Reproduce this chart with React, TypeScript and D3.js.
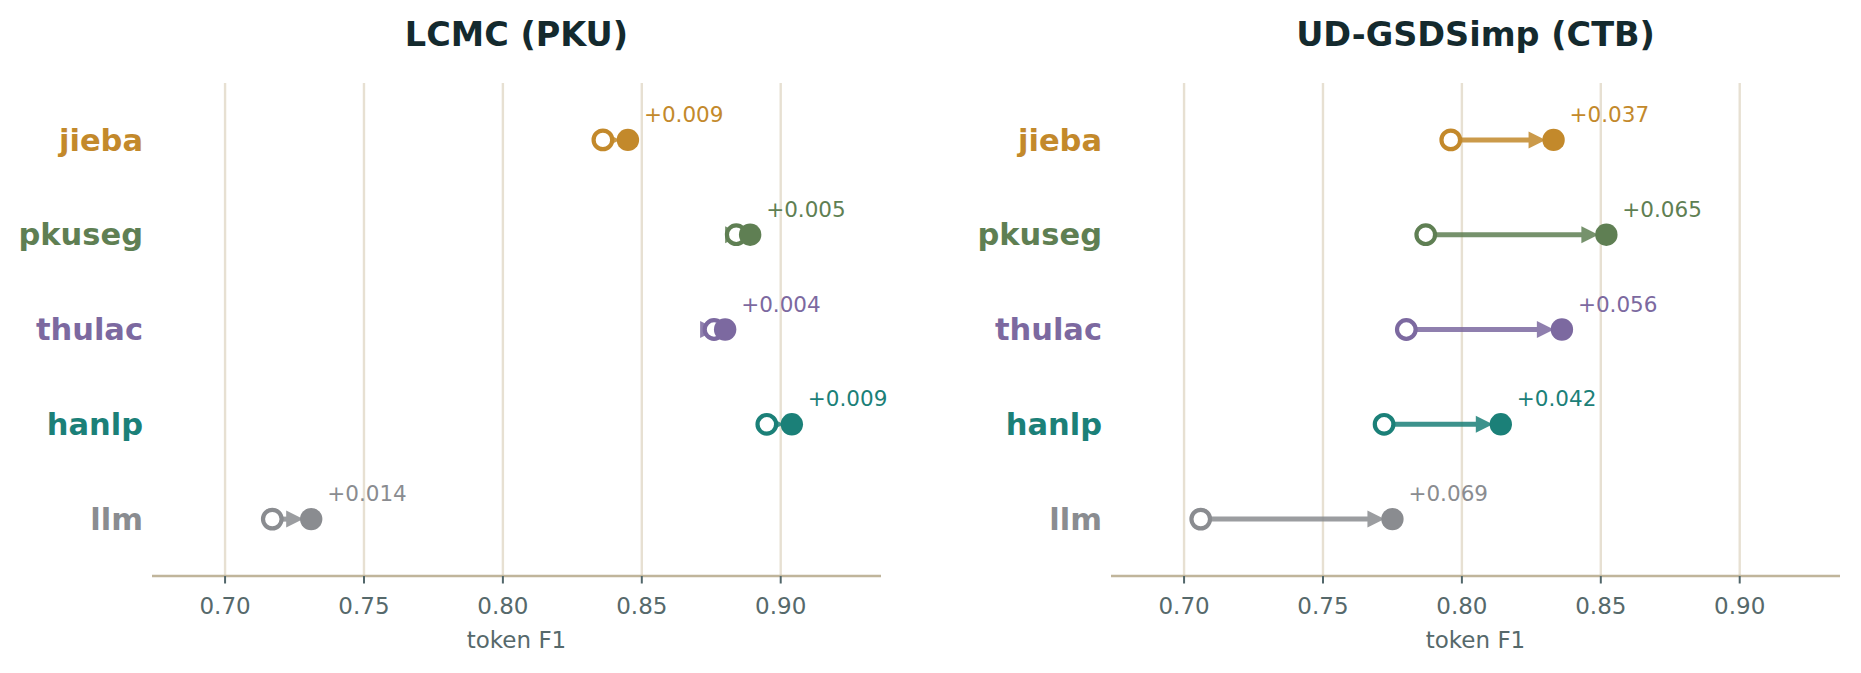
import React from "react";
import * as d3 from "d3";

const tools = ["jieba", "pkuseg", "thulac", "hanlp", "llm"];
const colors = ["#c3892b", "#5f7f53", "#7c69a0", "#1b8078", "#8a8c90"];
const panelTitles = ["LCMC (PKU)", "UD-GSDSimp (CTB)"];
const beforeLCMC = [0.836, 0.884, 0.876, 0.895, 0.717];
const afterLCMC = [0.845, 0.889, 0.880, 0.904, 0.731];
const beforeUD = [0.796, 0.787, 0.780, 0.772, 0.706];
const afterUD = [0.833, 0.852, 0.836, 0.814, 0.775];
const xTicks = [0.7, 0.75, 0.8, 0.85, 0.9];
const xDomain = [0.6737, 0.9361];
const xLabel = "token F1";

const W = 1861;
const H = 673;
const TOP = 83;
const BOTTOM = 576;
const FONT = "DejaVu Sans, sans-serif";

function Panel({ x0, x1, title, before, after }: { x0: number; x1: number; title: string; before: number[]; after: number[] }) {
  const x = d3.scaleLinear().domain(xDomain).range([x0, x1]);
  const y = d3.scaleLinear().domain([-0.6, 4.6]).range([TOP, BOTTOM]);
  const cx = (x0 + x1) / 2;
  const headLen = 17;
  const headHalf = 8.5;
  const shrinkA = 8;
  const shrinkB = 8;
  return (
    <g>
      {xTicks.map((t) => (
        <line key={"g" + t} x1={x(t)} x2={x(t)} y1={TOP} y2={BOTTOM} stroke="#e7e0d2" strokeWidth={2.4} />
      ))}
      <line x1={x0} x2={x1} y1={BOTTOM} y2={BOTTOM} stroke="#c0b59b" strokeWidth={2.5} />
      {xTicks.map((t) => (
        <g key={"t" + t}>
          <line x1={x(t)} x2={x(t)} y1={BOTTOM} y2={BOTTOM + 7.5} stroke="#51666a" strokeWidth={2} />
          <text x={x(t)} y={614} textAnchor="middle" fontFamily={FONT} fontSize={23} fill="#56696b">
            {d3.format(".2f")(t)}
          </text>
        </g>
      ))}
      <text x={cx} y={648} textAnchor="middle" fontFamily={FONT} fontSize={23} fill="#56696b">
        {xLabel}
      </text>
      <text x={cx} y={45.5} textAnchor="middle" fontFamily={FONT} fontSize={33.5} fontWeight="bold" fill="#142a2e">
        {title}
      </text>
      {tools.map((name, i) => (
        <text key={"l" + name} x={x0 - 9} y={y(i) + 10.8} textAnchor="end" fontFamily={FONT} fontSize={30.5} fontWeight="bold" fill={colors[i]}>
          {name}
        </text>
      ))}
      {tools.map((name, i) => {
        const xa = x(before[i]);
        const xb = x(after[i]);
        const yy = y(i);
        const tip = xb - shrinkB;
        const start = xa + shrinkA;
        const base = tip - headLen;
        return (
          <g key={"a" + name} opacity={0.85}>
            <line x1={start} x2={base + 2} y1={yy} y2={yy} stroke={colors[i]} strokeWidth={5} />
            <path d={`M${tip},${yy} L${base},${yy - headHalf} L${base},${yy + headHalf} Z`} fill={colors[i]} />
          </g>
        );
      })}
      {tools.map((name, i) => (
        <circle key={"o" + name} cx={x(before[i])} cy={y(i)} r={9.3} fill="#ffffff" stroke={colors[i]} strokeWidth={4.2} />
      ))}
      {tools.map((name, i) => (
        <circle key={"f" + name} cx={x(after[i])} cy={y(i)} r={11.2} fill={colors[i]} />
      ))}
      {tools.map((name, i) => (
        <text key={"d" + name} x={x(after[i]) + 16} y={y(i) - 18} fontFamily={FONT} fontSize={21.5} fill={colors[i]}>
          {"+" + d3.format(".3f")(after[i] - before[i])}
        </text>
      ))}
    </g>
  );
}

export default function App() {
  return (
    <svg width={W} height={H} style={{ position: "absolute", left: 0, top: 0, background: "#ffffff" }}>
      <rect x={0} y={0} width={W} height={H} fill="#ffffff" />
      <Panel x0={152} x1={881} title={panelTitles[0]} before={beforeLCMC} after={afterLCMC} />
      <Panel x0={1111} x1={1840} title={panelTitles[1]} before={beforeUD} after={afterUD} />
    </svg>
  );
}
